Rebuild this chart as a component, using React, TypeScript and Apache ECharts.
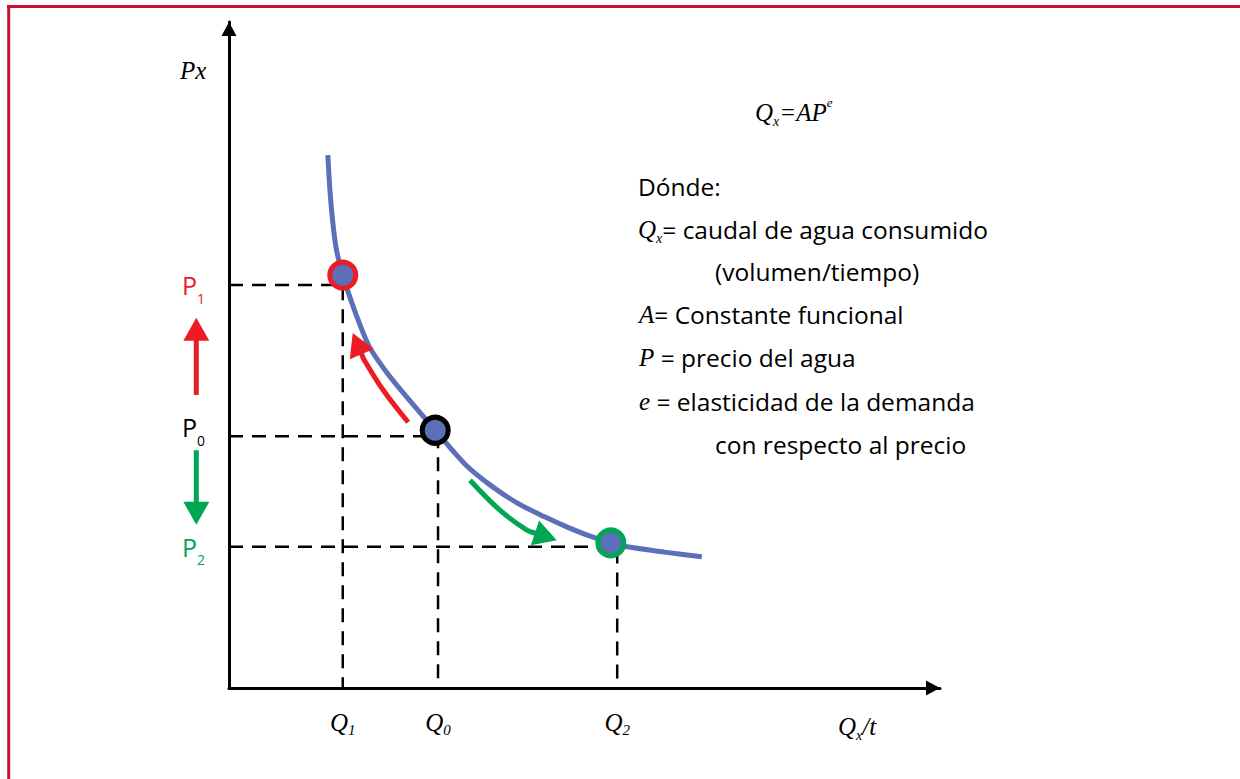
import React, { useEffect, useRef } from "react";
import * as echarts from "echarts";

const X_MAX = 10;
const Y_MAX = 10;

// Demand curve (quantity Q, price P)
const curveQ = [1.39, 1.43, 1.5, 1.6, 1.79, 1.98, 2.26, 2.57, 2.9, 3.32, 3.67, 4.05, 4.44, 4.75, 5.08, 5.37, 5.6, 6.13, 6.65];
const curveP = [8.0, 7.33, 6.65, 6.2, 5.6, 5.11, 4.68, 4.28, 3.87, 3.36, 3.05, 2.78, 2.57, 2.42, 2.28, 2.18, 2.12, 2.04, 1.97];

// Reference levels (tick labels Q1,Q0,Q2 / P1,P0,P2)
const guideSub = ["1", "0", "2"];
const guideQ = [1.6, 2.94, 5.46];
const guideP = [6.05, 3.78, 2.12];

// Highlighted points on the curve
const pointQ = [1.6, 2.9, 5.37];
const pointP = [6.2, 3.87, 2.18];

// Arrows (data units)
const priceUpArrow = [[-0.46, 4.4], [-0.46, 5.56]];
const priceDownArrow = [[-0.46, 3.57], [-0.46, 2.45]];
const moveUpArrow = [[2.52, 3.99], [2.17, 4.47], [1.9, 4.93], [1.74, 5.33]];
const moveDownArrow = [[3.39, 3.12], [3.81, 2.67], [4.19, 2.37], [4.61, 2.22]];

const RED = "#ed1c24";
const GREEN = "#00a651";
const BLACK = "#000000";
const BLUE = "#5b70b8";
const pointColors = [RED, BLACK, GREEN];
const SERIF = "Liberation Serif";
const SANS = "Open Sans";

function nearest(arr: number[], v: number) {
  let best = 0;
  for (let i = 1; i < arr.length; i++) if (Math.abs(arr[i] - v) < Math.abs(arr[best] - v)) best = i;
  return best;
}

function arrowSeries(points: number[][], color: string) {
  return {
    type: "custom",
    coordinateSystem: "cartesian2d",
    data: points,
    silent: true,
    clip: false,
    z: 4,
    renderItem: (params: any, api: any) => {
      if (params.dataIndex !== 0) return { type: "group", children: [] };
      const px = points.map((p) => api.coord(p));
      const n = px.length;
      const tip = px[n - 1];
      const prev = px[n - 2];
      const dx = tip[0] - prev[0];
      const dy = tip[1] - prev[1];
      const len = Math.hypot(dx, dy);
      const ux = dx / len;
      const uy = dy / len;
      const headLen = 23;
      const headHalf = 13;
      const base = [tip[0] - ux * headLen, tip[1] - uy * headLen];
      const shaft = px.slice(0, n - 1).concat([[base[0] + ux * 2, base[1] + uy * 2]]);
      return {
        type: "group",
        children: [
          {
            type: "polyline",
            shape: { points: shaft, smooth: n > 2 ? 0.35 : 0 },
            style: { stroke: color, lineWidth: 5, fill: "none" },
          },
          {
            type: "polygon",
            shape: {
              points: [
                tip,
                [base[0] - uy * headHalf, base[1] + ux * headHalf],
                [base[0] + uy * headHalf, base[1] - ux * headHalf],
              ],
            },
            style: { fill: color },
          },
        ],
      };
    },
  };
}

export default function App() {
  const ref = useRef<HTMLDivElement>(null);

  useEffect(() => {
    if (!ref.current) return;
    const chart = echarts.init(ref.current, undefined, { renderer: "svg" });

    const guideSeries = guideQ.map((q, i) => ({
      type: "line",
      data: [
        [0, guideP[i]],
        [q, guideP[i]],
        [q, 0],
      ],
      symbol: "none",
      silent: true,
      z: 2,
      lineStyle: { color: BLACK, width: 2.5, type: [14, 9] },
    }));

    const serifI = { fontFamily: SERIF, fontStyle: "italic", fontSize: 25, color: BLACK };

    const legendLines = [
      { x: 638, y: 186, text: "{t|Dónde:}" },
      { x: 638, y: 229, text: "{i|Q}{sub|x}{t|= caudal de agua consumido}" },
      { x: 715, y: 271, text: "{t|(volumen/tiempo)}" },
      { x: 639, y: 314, text: "{i|A}{t|= Constante funcional}" },
      { x: 639, y: 357, text: "{i|P}{t| = precio del agua}" },
      { x: 639, y: 401, text: "{i|e}{t| = elasticidad de la demanda}" },
      { x: 715, y: 444, text: "{t|con respecto al precio}" },
    ];

    const richCommon = {
      i: { ...serifI, lineHeight: 32 },
      t: { fontFamily: SANS, fontSize: 24.5, color: BLACK, lineHeight: 32 },
      sub: { fontFamily: SERIF, fontStyle: "italic", fontSize: 14, color: BLACK, lineHeight: 10, verticalAlign: "bottom" },
      sup: { fontFamily: SERIF, fontStyle: "italic", fontSize: 13, color: BLACK, lineHeight: 30, verticalAlign: "top" },
    };

    const textEl = (x: number, y: number, text: string) => ({
      type: "text",
      x,
      y,
      silent: true,
      style: {
        text,
        rich: richCommon,
        align: "left",
        verticalAlign: "middle",
        textAlign: "left",
        textVerticalAlign: "middle",
      },
    });

    chart.setOption({
      animation: false,
      backgroundColor: "#ffffff",
      grid: { left: 229, right: 300, top: 22, bottom: 91, containLabel: false, outerBoundsMode: "none" },
      xAxis: {
        type: "value",
        min: 0,
        max: X_MAX,
        axisLine: {
          show: true,
          onZero: false,
          lineStyle: { color: BLACK, width: 3 },
          symbol: ["none", "triangle"],
          symbolSize: [15, 14],
          symbolOffset: [0, -7],
        },
        axisTick: { show: false },
        splitLine: { show: false },
        axisLabel: {
          customValues: guideQ,
          margin: 19,
          formatter: (v: number) => `{q|Q}{s|${guideSub[nearest(guideQ, v)]}}`,
          rich: {
            q: { ...serifI, lineHeight: 30 },
            s: { fontFamily: SERIF, fontStyle: "italic", fontSize: 15, color: BLACK, lineHeight: 10, verticalAlign: "bottom" },
          },
        },
      },
      yAxis: {
        type: "value",
        min: 0,
        max: Y_MAX,
        axisLine: {
          show: true,
          onZero: false,
          lineStyle: { color: BLACK, width: 3 },
          symbol: ["none", "triangle"],
          symbolSize: [15, 14],
          symbolOffset: [0, -7],
        },
        axisTick: { show: false },
        splitLine: { show: false },
        axisLabel: {
          customValues: guideP,
          margin: 24,
          formatter: (v: number) => {
            const i = nearest(guideP, v);
            const s = `{p${i}|P}{s${i}|${guideSub[i]}}`;
            return i === 1 ? s + "\n{g| }" : s;
          },
          rich: {
            p0: { fontFamily: SANS, fontSize: 25, color: RED, lineHeight: 40 },
            s0: { fontFamily: SANS, fontSize: 14, color: RED, lineHeight: 14, verticalAlign: "bottom" },
            p1: { fontFamily: SANS, fontSize: 25, color: BLACK, lineHeight: 40 },
            s1: { fontFamily: SANS, fontSize: 14, color: BLACK, lineHeight: 14, verticalAlign: "bottom" },
            p2: { fontFamily: SANS, fontSize: 25, color: GREEN, lineHeight: 40 },
            s2: { fontFamily: SANS, fontSize: 14, color: GREEN, lineHeight: 14, verticalAlign: "bottom" },
            g: { fontSize: 10, lineHeight: 18 },
          },
        },
      },
      graphic: [
        { type: "line", silent: true, shape: { x1: 7, y1: 6.5, x2: 1240, y2: 6.5 }, style: { stroke: "#c8102e", lineWidth: 3 } },
        { type: "line", silent: true, shape: { x1: 8.7, y1: 5, x2: 8.7, y2: 779 }, style: { stroke: "#c8102e", lineWidth: 3 } },
        textEl(180, 70, "{i|Px}"),
        textEl(838, 726, "{i|Q}{sub|x}{i|/t}"),
        textEl(755, 112, "{i|Q}{sub|x}{i|=AP}{sup|e}"),
        ...legendLines.map((l) => textEl(l.x, l.y, l.text)),
      ],
      series: [
        ...guideSeries,
        {
          type: "line",
          data: curveQ.map((q, i) => [q, curveP[i]]),
          smooth: 0.3,
          symbol: "none",
          silent: true,
          z: 3,
          lineStyle: { color: BLUE, width: 5 },
        },
        arrowSeries(priceUpArrow, RED),
        arrowSeries(priceDownArrow, GREEN),
        arrowSeries(moveUpArrow, RED),
        arrowSeries(moveDownArrow, GREEN),
        {
          type: "scatter",
          z: 5,
          silent: true,
          symbolSize: 26,
          data: pointQ.map((q, i) => ({
            value: [q, pointP[i]],
            itemStyle: { color: BLUE, borderColor: pointColors[i], borderWidth: 5, opacity: 1 },
          })),
        },
      ],
    });

    return () => chart.dispose();
  }, []);

  return (
    <div
      ref={ref}
      style={{ position: "absolute", left: 0, top: 0, width: 1240, height: 779, background: "#fff" }}
    />
  );
}
